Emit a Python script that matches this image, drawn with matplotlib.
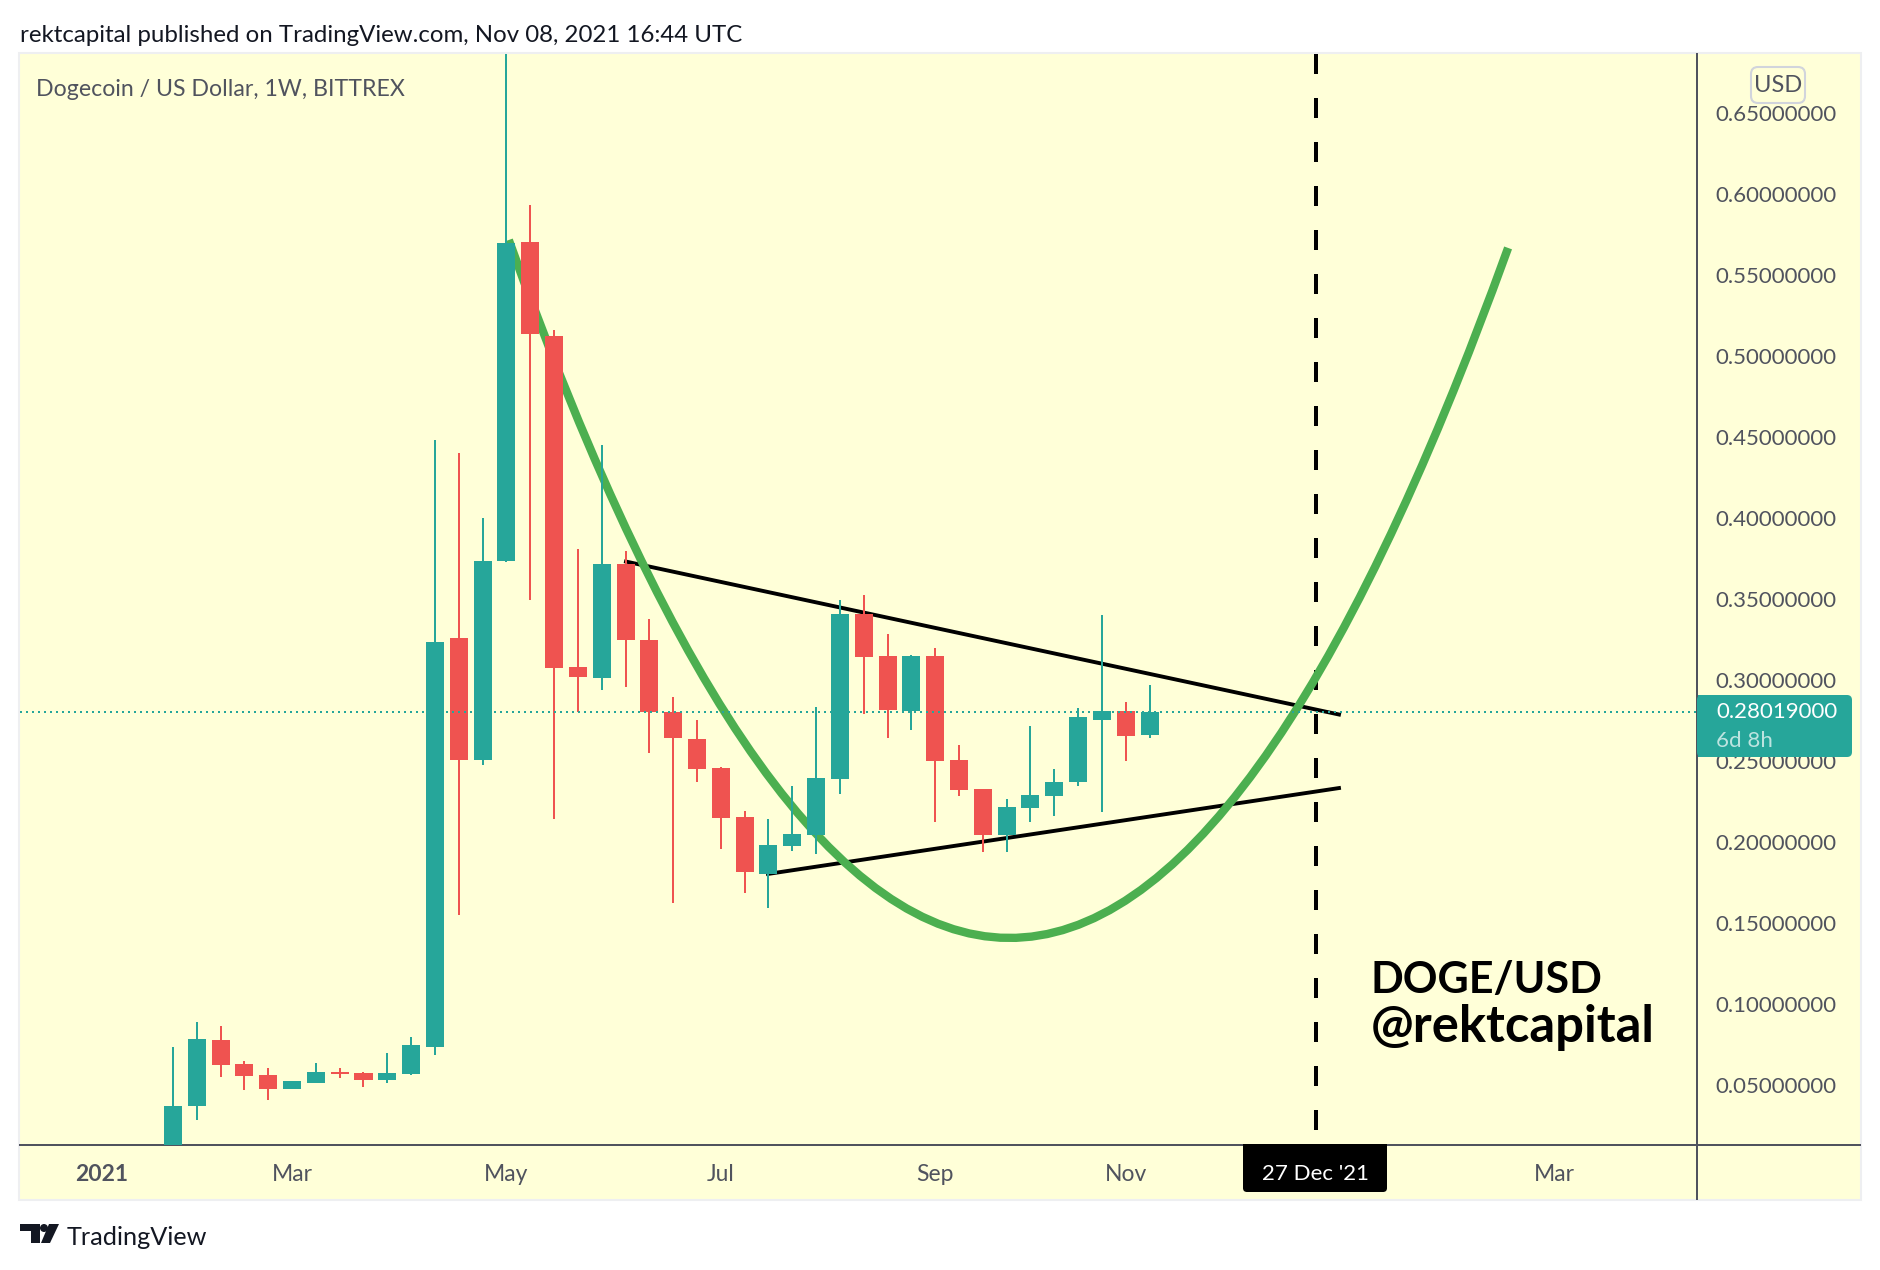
"""DOGE/USD weekly candles with triangle and rounded arc, TradingView snapshot look"""

import matplotlib
matplotlib.use("Agg")
import matplotlib.pyplot as plt
from matplotlib.lines import Line2D
from matplotlib.patches import Circle, FancyBboxPatch, PathPatch, Polygon, Rectangle
from matplotlib.path import Path
from matplotlib.transforms import Affine2D

plt.rcParams["font.family"] = ["Lato", "DejaVu Sans"]

# ── Data ───────────────────────────────────────────────────────────────────
opens = [0.0050, 0.0369, 0.0776, 0.0628, 0.0560, 0.0473, 0.0510, 0.0578, 0.0572, 0.0529,
         0.0566, 0.0733, 0.3257, 0.2504, 0.3733, 0.5702, 0.5122, 0.3078, 0.3011, 0.3714,
         0.3245, 0.2801, 0.2634, 0.2455, 0.2152, 0.1801, 0.1973, 0.2041, 0.2387, 0.3406,
         0.3146, 0.2807, 0.3146, 0.2504, 0.2325, 0.2041, 0.2208, 0.2282, 0.2369, 0.2751,
         0.2807, 0.2659]
highs = [0.0733, 0.0887, 0.0862, 0.0646, 0.0603, 0.0523, 0.0634, 0.0603, 0.0578, 0.0696,
         0.0794, 0.4480, 0.4399, 0.3998, 0.7376, 0.5930, 0.5159, 0.3807, 0.4449, 0.3794,
         0.3375, 0.2893, 0.2751, 0.2461, 0.2190, 0.2140, 0.2344, 0.2831, 0.3492, 0.3523,
         0.3282, 0.3152, 0.3196, 0.2597, 0.2325, 0.2264, 0.2714, 0.2449, 0.2825, 0.3399,
         0.2862, 0.2967]
lows = [0.0040, 0.0282, 0.0548, 0.0467, 0.0406, 0.0473, 0.0510, 0.0541, 0.0486, 0.0510,
        0.0560, 0.0683, 0.1548, 0.2473, 0.3727, 0.3492, 0.2140, 0.2801, 0.2936, 0.2955,
        0.2548, 0.1622, 0.2369, 0.1955, 0.1683, 0.1591, 0.1943, 0.1924, 0.2294, 0.2788,
        0.2640, 0.2690, 0.2122, 0.2282, 0.1936, 0.1936, 0.2122, 0.2159, 0.2344, 0.2183,
        0.2498, 0.2640]
closes = [0.0369, 0.0782, 0.0622, 0.0554, 0.0473, 0.0523, 0.0578, 0.0566, 0.0529, 0.0572,
          0.0745, 0.3233, 0.2507, 0.3733, 0.5696, 0.5134, 0.3072, 0.3017, 0.3714, 0.3245,
          0.2801, 0.2640, 0.2449, 0.2146, 0.1813, 0.1980, 0.2048, 0.2393, 0.3406, 0.3140,
          0.2813, 0.3146, 0.2498, 0.2319, 0.2041, 0.2214, 0.2288, 0.2369, 0.2770, 0.2807,
          0.2652, 0.2802]

last_price = 0.28019
marked_week = 48

upper_x = [19.02, 48.95]
upper_y = [0.3729, 0.2785]
lower_x = [24.98, 48.95]
lower_y = [0.1801, 0.2331]

# arc tool: start, control, end
arc_x = [14.1, 35.05, 56.05]
arc_y = [0.5714, -0.2878, 0.5665]

price_ticks = [0.05, 0.10, 0.15, 0.20, 0.25, 0.30, 0.35, 0.40, 0.45, 0.50, 0.55, 0.60, 0.65]
date_ticks = [-3, 5, 14, 23, 32, 40, 58]
date_labels = ["2021", "Mar", "May", "Jul", "Sep", "Nov", "Mar"]

UP = "#26a69a"
DOWN = "#ef5350"
BG = "#ffffd8"
AXIS = "#50535e"
INK = "#131722"

# ── Figure, all chrome placed in image pixels ──────────────────────────────
W, H = 1880, 1270
fig = plt.figure(figsize=(W / 100, H / 100), dpi=100, facecolor="white")
px = Affine2D().scale(1, -1).translate(0, H)

fig.add_artist(Rectangle((19, 53), 1842, 1147, transform=px, fc=BG, ec="#eeeff1", lw=1.5, zorder=-1))

ax = fig.add_axes([20 / W, 1 - 1145 / H, (1697 - 20) / W, (1145 - 54) / H], facecolor="none")
ax.set_xlim(-6.42, 63.98)
ax.set_ylim(0.01278, 0.6862)

# ── Drawings ───────────────────────────────────────────────────────────────
ax.plot(upper_x, upper_y, color="black", lw=2.8, zorder=2)
ax.plot(lower_x, lower_y, color="black", lw=2.8, zorder=2)
ax.plot([marked_week, marked_week], [0.6862, 0.01278], color="black", lw=2.88,
        ls=(0, (5, 6)), dash_capstyle="butt", zorder=2.5)
arc = Path(list(zip(arc_x, arc_y)), [Path.MOVETO, Path.CURVE3, Path.CURVE3])
ax.add_patch(PathPatch(arc, fc="none", ec="#4caf50", lw=6, zorder=3))

# ── Candles ────────────────────────────────────────────────────────────────
for i, (o, h, l, c) in enumerate(zip(opens, highs, lows, closes)):
    color = UP if c >= o else DOWN
    ax.vlines(i, l, h, color=color, lw=1.44, zorder=4)
    ax.bar(i, abs(c - o), bottom=min(o, c), width=0.756, color=color, lw=0, zorder=4)

ax.axhline(last_price, color=UP, lw=1.44, ls=(0, (1, 2)), zorder=5)

# ── Axes ───────────────────────────────────────────────────────────────────
for side in ("left", "top"):
    ax.spines[side].set_visible(False)
for side in ("right", "bottom"):
    ax.spines[side].set_color(AXIS)
    ax.spines[side].set_linewidth(1.44)
ax.yaxis.tick_right()
ax.set_yticks(price_ticks, [f"{p:.8f}" for p in price_ticks])
ax.set_xticks(date_ticks, date_labels)
ax.tick_params(axis="y", length=0, pad=13.5, labelsize=16, labelcolor=AXIS)
ax.tick_params(axis="x", length=0, pad=14, labelsize=16.5, labelcolor=AXIS)
ax.get_xticklabels()[0].set_fontweight("bold")
for label in ax.get_yticklabels():
    label.set_verticalalignment("center_baseline")

fig.add_artist(Line2D([1697, 1860], [1145, 1145], transform=px, color=AXIS, lw=1.44))
fig.add_artist(Line2D([1697, 1697], [1145, 1199], transform=px, color=AXIS, lw=1.44))

# ── Price label, currency button, date label ───────────────────────────────
fig.add_artist(FancyBboxPatch((1700, 698), 149, 56, boxstyle="round,pad=3,rounding_size=5",
                              transform=px, fc=UP, ec="none", zorder=5))
fig.add_artist(Rectangle((1698, 695), 12, 62, transform=px, fc=UP, ec="none", zorder=5))
fig.text(1716, 712, f"{last_price:.8f}", transform=px, color="white", fontsize=16, va="center", zorder=6)
fig.text(1716, 741, "6d 8h", transform=px, color="#bde4e0", fontsize=16, va="center", zorder=6)

fig.add_artist(FancyBboxPatch((1755, 71), 46, 28, boxstyle="round,pad=4,rounding_size=7",
                              transform=px, fc=BG, ec="#d1d4dc", lw=1.5, zorder=5))
fig.text(1778, 85, "USD", transform=px, color=AXIS, fontsize=17, ha="center", va="center", zorder=6)

fig.add_artist(FancyBboxPatch((1246, 1147), 138, 42, boxstyle="round,pad=3,rounding_size=4",
                              transform=px, fc="black", ec="none", zorder=5))
fig.add_artist(Rectangle((1243, 1144), 144, 20, transform=px, fc="black", ec="none", zorder=5))
fig.text(1315, 1174, "27 Dec '21", transform=px, color="white", fontsize=16, ha="center", va="center", zorder=6)

# ── Texts ──────────────────────────────────────────────────────────────────
fig.text(20, 35, "rektcapital published on TradingView.com, Nov 08, 2021 16:44 UTC",
         transform=px, color=INK, fontsize=17.3, va="center")
fig.text(36, 90, "Dogecoin / US Dollar, 1W, BITTREX", transform=px, color=AXIS, fontsize=16.7, va="center")
fig.text(1371, 993, "DOGE/USD", transform=px, color="black", fontsize=31, fontweight="bold", va="baseline", zorder=6)
fig.text(1371, 1042, "@rektcapital", transform=px, color="black", fontsize=36.5, fontweight="bold",
         va="baseline", zorder=6)

# ── Logo ───────────────────────────────────────────────────────────────────
fig.add_artist(Polygon([(20, 1224), (40, 1224), (40, 1243), (31, 1243), (31, 1231), (20, 1231)],
                       transform=px, fc=INK, ec="none"))
fig.add_artist(Circle((44, 1228), 4, transform=px, fc=INK, ec="none"))
fig.add_artist(Polygon([(49, 1224), (59, 1224), (50, 1243), (41, 1243)], transform=px, fc=INK, ec="none"))
fig.text(67, 1245, "TradingView", transform=px, color=INK, fontsize=18.2, va="baseline")

fig.savefig("out.png", dpi=100)
